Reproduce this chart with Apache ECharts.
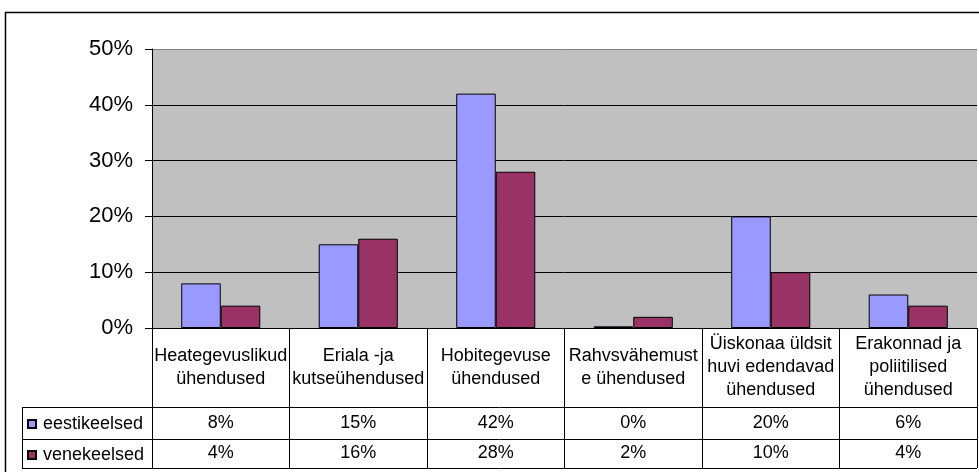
<!DOCTYPE html>
<html>
<head>
<meta charset="utf-8">
<script src="https://cdn.jsdelivr.net/npm/echarts@6/dist/echarts.min.js"></script>
<style>
html,body{margin:0;padding:0;background:#fff;}
#main{width:979px;height:472px;}
</style>
</head>
<body>
<div id="main"></div>
<script>
const categories = [
  'Heategevuslikud\nühendused',
  'Eriala -ja\nkutseühendused',
  'Hobitegevuse\nühendused',
  'Rahvsvähemust\ne ühendused',
  'Üiskonaa üldsit\nhuvi edendavad\nühendused',
  'Erakonnad ja\npoliitilised\nühendused'
];
const seriesNames = ['eestikeelsed', 'venekeelsed'];
const eesti = [0.08, 0.15, 0.42, 0.003, 0.20, 0.06];
const vene = [0.04, 0.16, 0.28, 0.02, 0.10, 0.04];
const yMin = 0, yMax = 0.5, yStep = 0.1;

const FONT = '"Liberation Sans", Arial, sans-serif';
const pct = v => Math.round(v * 100) + '%';

// layout
const G = {left: 152, right: 2, top: 49, bottom: 144};
const W = 979, H = 472;
const axisY = H - G.bottom;          // 328
const row1 = 79, row2 = 32, row3 = 29;
const tableLeft = 22;
const tableRight = W - G.right;
const lineYs = [axisY + row1, axisY + row1 + row2, axisY + row1 + row2 + row3];

const chart = echarts.init(document.getElementById('main'), null, {renderer: 'canvas'});

const graphics = [
  {type: 'rect', shape: {x: 5.5, y: 12.5, width: 1000, height: 500},
   style: {fill: null, stroke: '#000', lineWidth: 1.5}, z: 100}
];
lineYs.forEach(y => graphics.push({
  type: 'line', shape: {x1: tableLeft, y1: y + 0.5, x2: tableRight, y2: y + 0.5},
  style: {stroke: '#000', lineWidth: 1}, z: 100
}));
graphics.push({
  type: 'line', shape: {x1: tableLeft + 0.5, y1: lineYs[0], x2: tableLeft + 0.5, y2: lineYs[2] + 1},
  style: {stroke: '#000', lineWidth: 1}, z: 100
});

const labelBase = {interval: 0, color: '#000', fontFamily: FONT, fontSize: 18, verticalAlign: 'middle'};

chart.setOption({
  animation: false,
  backgroundColor: '#fff',
  textStyle: {fontFamily: FONT},
  grid: {left: G.left, right: G.right, top: G.top, bottom: G.bottom, show: true,
         backgroundColor: '#C0C0C0', borderWidth: 0, containLabel: false},
  legend: {
    data: seriesNames, orient: 'vertical', left: 27, top: lineYs[0] + 8,
    itemWidth: 8, itemHeight: 8, itemGap: 13, padding: 0,
    icon: 'rect',
    textStyle: {fontSize: 18, color: '#000', fontFamily: FONT, padding: [0, 0, 0, 2]}
  },
  xAxis: [
    {
      type: 'category', data: categories, position: 'bottom',
      axisLine: {show: true, lineStyle: {color: '#000', width: 1}},
      axisTick: {show: true, interval: 0, length: row1 + row2 + row3, lineStyle: {color: '#000', width: 1}},
      axisLabel: Object.assign({}, labelBase, {margin: row1 / 2, lineHeight: 23}),
      splitLine: {show: false}
    },
    {
      type: 'category', data: categories, position: 'bottom', offset: row1,
      axisLine: {show: false}, axisTick: {show: false},
      axisLabel: Object.assign({}, labelBase, {margin: row2 / 2, formatter: (v, i) => pct(eesti[i])})
    },
    {
      type: 'category', data: categories, position: 'bottom', offset: row1 + row2,
      axisLine: {show: false}, axisTick: {show: false},
      axisLabel: Object.assign({}, labelBase, {margin: row3 / 2, formatter: (v, i) => pct(vene[i])})
    }
  ],
  yAxis: {
    type: 'value', min: yMin, max: yMax, interval: yStep,
    axisLine: {show: true, lineStyle: {color: '#000', width: 1}},
    axisTick: {show: true, length: 7, lineStyle: {color: '#000'}},
    axisLabel: {color: '#000', fontSize: 22, fontFamily: FONT, margin: 19,
                formatter: v => Math.round(v * 100) + '%'},
    splitLine: {show: true, lineStyle: {color: ['#000', '#000', '#000', '#000', '#000', '#808080'], width: 1}}
  },
  series: [
    {name: seriesNames[0], type: 'bar', xAxisIndex: 0, data: eesti,
     barGap: '0%', barCategoryGap: '42.5%',
     itemStyle: {color: '#9999FF', borderColor: '#000', borderWidth: 1}},
    {name: seriesNames[1], type: 'bar', xAxisIndex: 0, data: vene,
     barGap: '0%', barCategoryGap: '42.5%',
     itemStyle: {color: '#993366', borderColor: '#000', borderWidth: 1}}
  ],
  graphic: graphics
});
</script>
</body>
</html>
